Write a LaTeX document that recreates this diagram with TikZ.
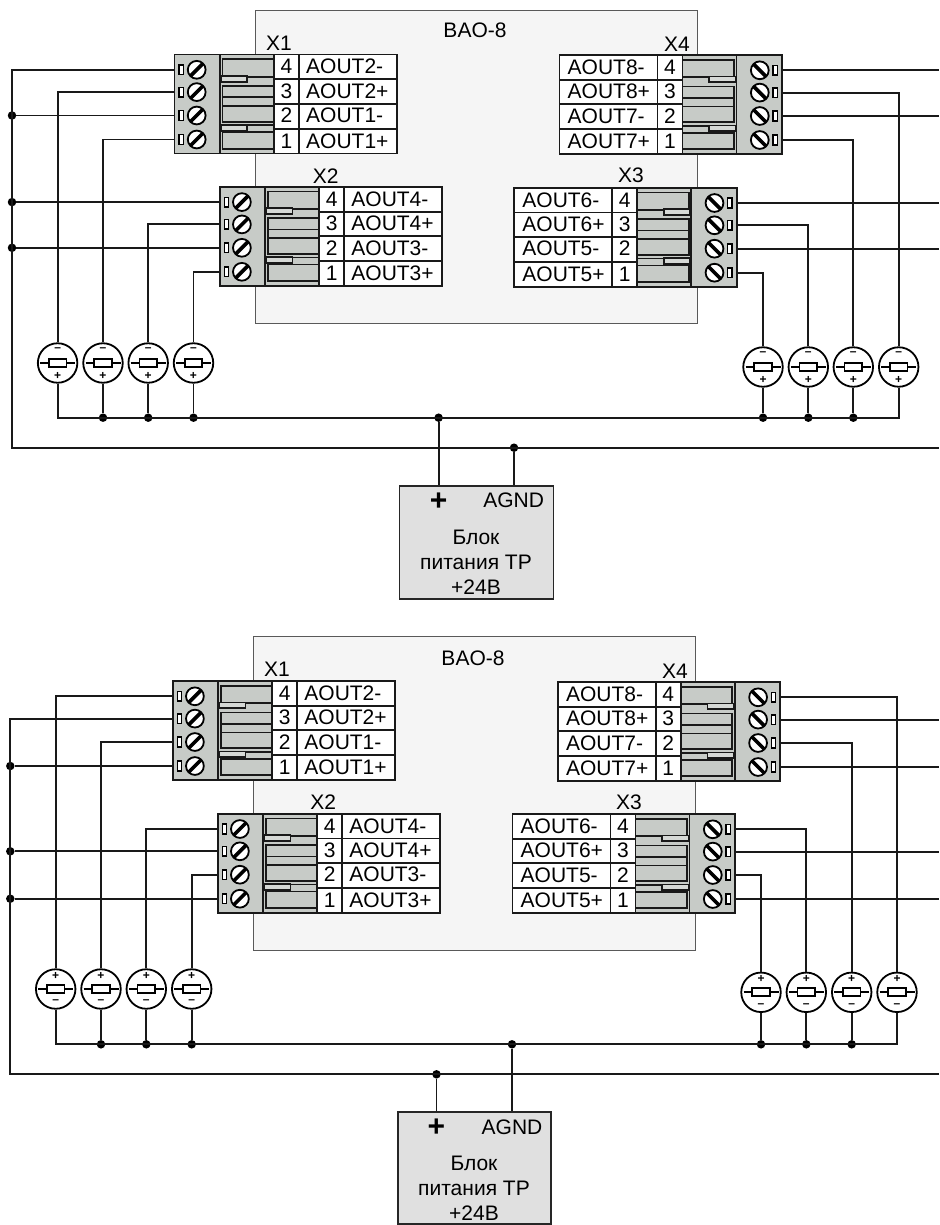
\documentclass[tikz,border=0pt]{standalone}
\usepackage{fontspec}
\setmainfont{Liberation Sans}
\usepackage{tikz}

\tikzset{
  wire/.style={line width=1.9pt,black!90},
  termline/.style={line width=1.9pt,black!90},
  plugline/.style={line width=1.7pt,black!90},
  dot/.style={circle,fill=black,inner sep=0pt,minimum size=8.5pt},
  sensor/.style={circle,draw,line width=1.8pt,fill=white,inner sep=0pt,minimum size=39.5pt},
  sign/.style={font=\fontsize{12}{12}\selectfont\bfseries,inner sep=0pt},
  pinlabel/.style={font=\fontsize{21}{24}\selectfont,inner sep=0pt,anchor=base west},
  pinnum/.style={font=\fontsize{21}{24}\selectfont,inner sep=0pt,anchor=base},
  title/.style={font=\fontsize{21}{24}\selectfont,inner sep=0pt},
  txt/.style={font=\fontsize{21}{24}\selectfont,inner sep=0pt},
  panel/.style={draw=black!65,line width=1.5pt,fill=black!4},
  psu/.style={draw=black!85,line width=1.9pt,fill=black!12}
}
\definecolor{termgray}{HTML}{C7CBC7}
\definecolor{tabgray}{HTML}{D6D9D6}

% one screw of a terminal, #1 is the name of the pin
\newcommand{\termscrew}[2]{
  \coordinate (#1) at (0,#2);
  \draw[line width=1.5pt,fill=white] (4.7,#2-4.8) rectangle (9,#2+4.8);
  \draw[line width=1.8pt,fill=white] (22.2,#2) circle (8.9pt);
  \draw[line width=3.6pt] (22.2-6.4,#2+6.4) -- (22.2+6.4,#2-6.4);
}
% name, x and y of the outer corner, direction (1 or -1), first and second channel
\newcommand{\terminal}[6]{
  \begin{scope}[shift={(#2,#3)},xscale=#4]
  \draw[termline,fill=termgray] (0,0) rectangle (45.5,99);
  \draw[termline,fill=termgray] (45.5,0) rectangle (99.5,99);
  \draw[plugline] (99,4.8) -- (48,4.8) -- (48,21.5);
  \draw[plugline] (72.8,22.2) -- (99,22.2);
  \draw[plugline] (99,31.5) -- (48,31.5) -- (48,67.2) -- (99,67.2);
  \draw[plugline] (48,42.8) -- (99,42.8);
  \draw[plugline] (48,51.5) -- (99,51.5);
  \draw[plugline] (72.8,70.8) -- (99,70.8);
  \draw[plugline] (48,76.2) -- (48,94.2) -- (99,94.2);
  \draw[plugline] (48,77.8) -- (99,77.8);
  \draw[plugline,fill=tabgray] (46.5,21.5) rectangle (72.8,27.2);
  \draw[plugline,fill=tabgray] (46.5,70.5) rectangle (72.8,76.2);
  \termscrew{#1p4}{15.3}
  \termscrew{#1p3}{37.6}
  \termscrew{#1p2}{61}
  \termscrew{#1p1}{85}
  \draw[termline,fill=white] (99.5,0) rectangle (222.5,99);
  \draw[termline] (124.5,0) -- (124.5,99);
  \draw[termline] (99.5,24.8) -- (222.5,24.8);
  \draw[termline] (99.5,49.2) -- (222.5,49.2);
  \draw[termline] (99.5,74.2) -- (222.5,74.2);
  \node[pinnum] (#1n4) at (112,19.5) {4};
  \node[pinnum] (#1n3) at (112,43.8) {3};
  \node[pinnum] (#1n2) at (112,68.2) {2};
  \node[pinnum] (#1n1) at (112,93.8) {1};
  \node[pinlabel] (#1l4) at (173-41.5*#4,19.5) {AOUT#5-};
  \node[pinlabel] (#1l3) at (173-41.5*#4,43.8) {AOUT#5+};
  \node[pinlabel] (#1l2) at (173-41.5*#4,68.2) {AOUT#6-};
  \node[pinlabel] (#1l1) at (173-41.5*#4,93.8) {AOUT#6+};
  \end{scope}
}
% name, x, y, sign on top, sign below
\newcommand{\currsensor}[5]{
  \node[sensor] (#1) at (#2,#3) {};
  \draw[line width=1.7pt] (#2-17.5,#3) -- (#2+17.5,#3);
  \draw[line width=1.7pt,fill=white] (#2-8.8,#3-4) rectangle (#2+8.8,#3+4);
  \node[sign] (#1t) at (#2,#3-13) {#4};
  \node[sign] (#1b) at (#2,#3+13) {#5};
}

\begin{document}
\begin{tikzpicture}[x=1pt,y=-1pt]
\useasboundingbox (0,0) rectangle (939,1225);

%% upper picture
\draw[panel] (255.7,10.5) rectangle (697.7,323.5);
\node[title] (ta) at (475,30) {BAO-8};
\terminal{a1}{174.5}{54.5}{1}{2}{1}
\terminal{a2}{219.7}{186.8}{1}{4}{3}
\terminal{a4}{782}{55}{-1}{8}{7}
\terminal{a3}{736.7}{187.7}{-1}{6}{5}
\node[txt] (a1t) at (279,43) {X1};
\node[txt] (a2t) at (325.7,175.7) {X2};
\node[txt] (a4t) at (677,44.3) {X4};
\node[txt] (a3t) at (631,175.7) {X3};

\currsensor{as1}{57.6}{363}{–}{+}
\currsensor{as2}{103}{363}{–}{+}
\currsensor{as3}{148.2}{363}{–}{+}
\currsensor{as4}{193.5}{363}{–}{+}
\currsensor{as5}{763}{367}{–}{+}
\currsensor{as6}{808.3}{367}{–}{+}
\currsensor{as7}{853.3}{367}{–}{+}
\currsensor{as8}{898.7}{367}{–}{+}

\node[psu,minimum width=154pt,minimum height=113.6pt,inner sep=0pt] (apsu) at (476.5,542.5) {};
\node[txt,font=\fontsize{30}{30}\selectfont\bfseries] (aplus) at (438.6,502) {+};
\node[txt] (agnd) at (513.6,500) {AGND};
\node[txt] (ab1) at (476,537) {Блок};
\node[txt] (ab2) at (476,562) {питания ТР};
\node[txt] (ab3) at (476,587) {+24В};

\coordinate (abus) at (438.6,417.7);
\coordinate (acor) at (12,447.7);
\coordinate (aend) at (939,447.7);
\node[dot] (ad1) at (a1p2 -| acor) {};
\node[dot] (ad2) at (a2p4 -| acor) {};
\node[dot] (ad3) at (a2p2 -| acor) {};
\node[dot] (ad4) at (as2.south |- abus) {};
\node[dot] (ad5) at (as3.south |- abus) {};
\node[dot] (ad6) at (as4.south |- abus) {};
\node[dot] (ad7) at (abus) {};
\node[dot] (ad8) at (as5.south |- abus) {};
\node[dot] (ad9) at (as6.south |- abus) {};
\node[dot] (ad10) at (as7.south |- abus) {};
\node[dot] (ad11) at (514,447.7) {};
\draw[wire] (a1p4) -| (acor) -- (aend);
\draw[wire] (a1p3) -| (as1.north);
\draw[wire] (a1p2) -- (ad1);
\draw[wire] (a1p1) -| (as2.north);
\draw[wire] (a2p4) -- (ad2);
\draw[wire] (a2p3) -| (as3.north);
\draw[wire] (a2p2) -- (ad3);
\draw[wire] (a2p1) -| (as4.north);
\draw[wire] (a4p4) -- (a4p4 -| aend);
\draw[wire] (a4p3) -| (as8.north);
\draw[wire] (a4p2) -- (a4p2 -| aend);
\draw[wire] (a4p1) -| (as7.north);
\draw[wire] (a3p4) -- (a3p4 -| aend);
\draw[wire] (a3p3) -| (as6.north);
\draw[wire] (a3p2) -- (a3p2 -| aend);
\draw[wire] (a3p1) -| (as5.north);
\draw[wire] (as1.south) |- (abus) -| (as8.south);
\draw[wire] (as2.south) -- (ad4);
\draw[wire] (as3.south) -- (ad5);
\draw[wire] (as4.south) -- (ad6);
\draw[wire] (as5.south) -- (ad8);
\draw[wire] (as6.south) -- (ad9);
\draw[wire] (as7.south) -- (ad10);
\draw[wire] (ad7) -- (ad7 |- apsu.north);
\draw[wire] (ad11) -- (ad11 |- apsu.north);

%% lower picture
\draw[panel] (253.7,636.7) rectangle (695.3,950.3);
\node[title] (tb) at (473,658) {BAO-8};
\terminal{b1}{172.7}{681}{1}{2}{1}
\terminal{b2}{217.7}{813.7}{1}{4}{3}
\terminal{b4}{780.3}{682}{-1}{8}{7}
\terminal{b3}{735}{814}{-1}{6}{5}
\node[txt] (b1t) at (277,669) {X1};
\node[txt] (b2t) at (323.3,801.7) {X2};
\node[txt] (b4t) at (675,671) {X4};
\node[txt] (b3t) at (629,802.3) {X3};

\currsensor{bs1}{55.7}{989}{+}{–}
\currsensor{bs2}{101}{989}{+}{–}
\currsensor{bs3}{146.3}{989}{+}{–}
\currsensor{bs4}{191.7}{989}{+}{–}
\currsensor{bs5}{761}{992.3}{+}{–}
\currsensor{bs6}{806.3}{992.3}{+}{–}
\currsensor{bs7}{851.7}{992.3}{+}{–}
\currsensor{bs8}{897}{992.3}{+}{–}

\node[psu,minimum width=153.4pt,minimum height=112pt,inner sep=0pt] (bpsu) at (474.3,1168.3) {};
\node[txt,font=\fontsize{30}{30}\selectfont\bfseries] (bplus) at (436.5,1128) {+};
\node[txt] (bgnd) at (512,1127) {AGND};
\node[txt] (bb1) at (474,1163) {Блок};
\node[txt] (bb2) at (474,1188) {питания ТР};
\node[txt] (bb3) at (474,1213) {+24В};

\coordinate (bbus) at (512,1044.3);
\coordinate (bcor) at (10.3,1074.3);
\coordinate (bend) at (939,1074.3);
\node[dot] (bd1) at (b1p1 -| bcor) {};
\node[dot] (bd2) at (b2p3 -| bcor) {};
\node[dot] (bd3) at (b2p1 -| bcor) {};
\node[dot] (bd4) at (bs2.south |- bbus) {};
\node[dot] (bd5) at (bs3.south |- bbus) {};
\node[dot] (bd6) at (bs4.south |- bbus) {};
\node[dot] (bd7) at (bbus) {};
\node[dot] (bd8) at (bs5.south |- bbus) {};
\node[dot] (bd9) at (bs6.south |- bbus) {};
\node[dot] (bd10) at (bs7.south |- bbus) {};
\node[dot] (bd11) at (436.5,1074.3) {};
\draw[wire] (b1p3) -| (bcor) -- (bend);
\draw[wire] (b1p4) -| (bs1.north);
\draw[wire] (b1p2) -| (bs2.north);
\draw[wire] (b1p1) -- (bd1);
\draw[wire] (b2p4) -| (bs3.north);
\draw[wire] (b2p3) -- (bd2);
\draw[wire] (b2p2) -| (bs4.north);
\draw[wire] (b2p1) -- (bd3);
\draw[wire] (b4p4) -| (bs8.north);
\draw[wire] (b4p3) -- (b4p3 -| bend);
\draw[wire] (b4p2) -| (bs7.north);
\draw[wire] (b4p1) -- (b4p1 -| bend);
\draw[wire] (b3p4) -| (bs6.north);
\draw[wire] (b3p3) -- (b3p3 -| bend);
\draw[wire] (b3p2) -| (bs5.north);
\draw[wire] (b3p1) -- (b3p1 -| bend);
\draw[wire] (bs1.south) |- (bbus) -| (bs8.south);
\draw[wire] (bs2.south) -- (bd4);
\draw[wire] (bs3.south) -- (bd5);
\draw[wire] (bs4.south) -- (bd6);
\draw[wire] (bs5.south) -- (bd8);
\draw[wire] (bs6.south) -- (bd9);
\draw[wire] (bs7.south) -- (bd10);
\draw[wire] (bd7) -- (bd7 |- bpsu.north);
\draw[wire] (bd11) -- (bd11 |- bpsu.north);
\end{tikzpicture}
\end{document}
